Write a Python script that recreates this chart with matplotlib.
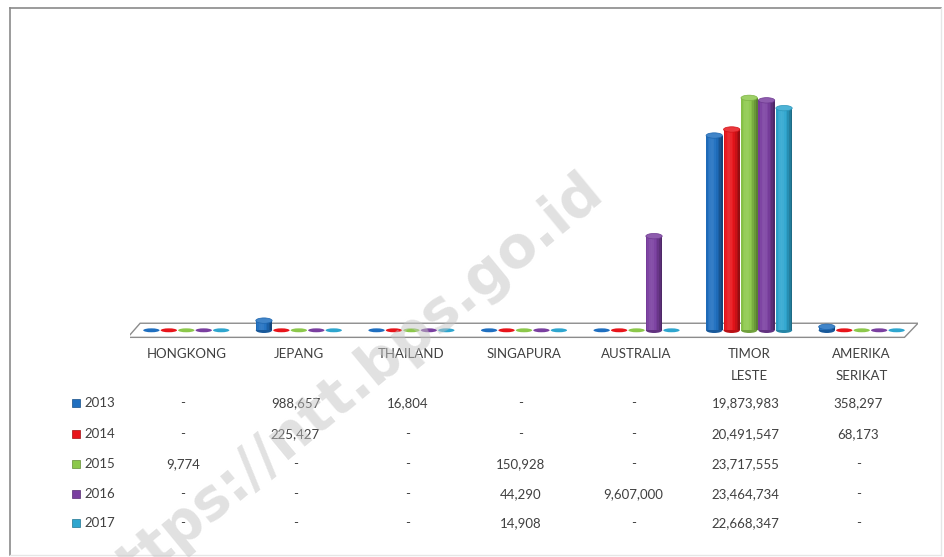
import numpy as np
import matplotlib.pyplot as plt
from matplotlib.patches import Ellipse, Rectangle, Polygon
from matplotlib.lines import Line2D
from matplotlib.colors import to_rgb
import matplotlib.transforms as mtransforms

plt.rcParams['font.family'] = ['Lato', 'DejaVu Sans']

countries = ["HONGKONG", "JEPANG", "THAILAND", "SINGAPURA", "AUSTRALIA",
             "TIMOR\nLESTE", "AMERIKA\nSERIKAT"]
years = ["2013", "2014", "2015", "2016", "2017"]
colors = ["#1F6FC0", "#E8141A", "#8CC84B", "#7A3FA0", "#2EA6CF"]

v2013 = [0, 988657, 16804, 0, 0, 19873983, 358297]
v2014 = [0, 225427, 0, 0, 0, 20491547, 68173]
v2015 = [9774, 0, 0, 150928, 0, 23717555, 0]
v2016 = [0, 0, 0, 44290, 9607000, 23464734, 0]
v2017 = [0, 0, 0, 14908, 0, 22668347, 0]
series = [v2013, v2014, v2015, v2016, v2017]

W, H = 944, 557
fig = plt.figure(figsize=(W / 100, H / 100), dpi=100)

# chart frame: dark top/left, faint right/bottom
fig.add_artist(Line2D([10 / W, 10 / W], [1 - 555 / H, 1 - 8 / H], color="#8a8a8a", lw=1.2))
fig.add_artist(Line2D([10 / W, 941 / W], [1 - 8 / H, 1 - 8 / H], color="#8a8a8a", lw=1.2))
fig.add_artist(Line2D([941 / W, 941 / W], [1 - 555 / H, 1 - 8 / H], color="#e6e6e6", lw=1.0))
fig.add_artist(Line2D([10 / W, 941 / W], [1 - 555 / H, 1 - 555 / H], color="#e6e6e6", lw=1.0))

ax = fig.add_axes([130 / W, (H - 345) / H, 788 / W, 285 / H])
ax.set_xlim(-0.5, 6.5)
ax.set_ylim(-1.5, 27.58)
ax.axis("off")


def shade(c, f):
    r = np.array(to_rgb(c))
    if f >= 0:
        return tuple(r + (1 - r) * f)
    return tuple(r * (1 + f))


# floor
floor = Polygon([(-0.52, -0.72), (-0.41, 0.72), (6.5, 0.72), (6.38, -0.72)],
                closed=True, facecolor="white", edgecolor="#8c8c8c", lw=1.0, zorder=1)
ax.add_patch(floor)

bw = 0.145
step = 0.155
nstrip = 10
cap_h = 0.55
for j, vals in enumerate(series):
    for i, v in enumerate(vals):
        xc = i + (j - 2) * step
        h = v / 1e6
        x0 = xc - bw / 2
        if h > 0.3:
            for k in range(nstrip):
                t = (k + 0.5) / nstrip
                f = 0.35 * np.cos((t - 0.35) * np.pi) - 0.25
                ax.add_patch(Rectangle((x0 + k * bw / nstrip, 0), bw / nstrip + 0.002, h,
                                       facecolor=shade(colors[j], f), lw=0, zorder=3 + j * 0.01))
            ax.add_patch(Ellipse((xc, 0), bw, cap_h, facecolor=shade(colors[j], -0.2),
                                 lw=0, zorder=2.9))
            ax.add_patch(Ellipse((xc, h), bw, cap_h, facecolor=shade(colors[j], 0.15),
                                 edgecolor=shade(colors[j], -0.1), lw=0.5, zorder=3.1 + j * 0.01))
        else:
            ax.add_patch(Ellipse((xc, 0), bw, 0.4, facecolor=colors[j], lw=0, zorder=3))

# category labels
blend = mtransforms.blended_transform_factory(ax.transData, fig.transFigure)
for i, c in enumerate(countries):
    ax.text(i, 1 - 348 / H, c, transform=blend, ha="center", va="top",
            fontsize=9.5, color="#404040", linespacing=2.0)

# data table
row_y = [403, 434, 464, 494, 523]
for j, vals in enumerate(series):
    yf = 1 - row_y[j] / H
    fig.patches.append(Rectangle((72 / W, yf - 4 / H), 8 / W, 8 / H, transform=fig.transFigure,
                                 facecolor=colors[j], edgecolor=shade(colors[j], -0.3), lw=0.5))
    fig.text(84 / W, yf, years[j], ha="left", va="center", fontsize=9.5, color="#404040")
    for i, v in enumerate(vals):
        s = "{:,}".format(v) if v > 0 else "-"
        ax.text(i - 0.03, yf, s, transform=blend, ha="center", va="center",
                fontsize=9.5, color="#404040")

# watermark (runs off the bottom edge, as in the source image)
fig.text(345 / W, 1 - 390 / H, "https://ntt.bps.go.id", rotation=39.5, ha="center", va="center",
         fontsize=41, fontweight="bold", family="DejaVu Sans", color="#c4c4c4", alpha=0.5,
         zorder=10)

fig.savefig("out.png", dpi=100)
